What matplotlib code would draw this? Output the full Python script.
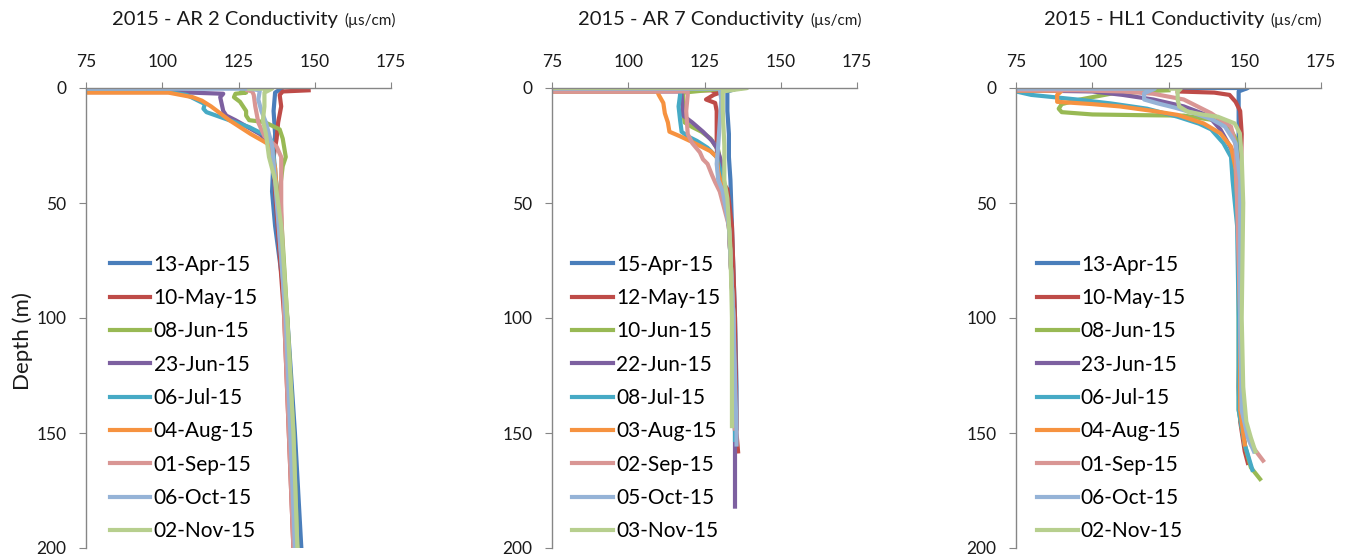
import matplotlib
matplotlib.use("Agg")
import matplotlib.pyplot as plt

plt.rcParams['font.family'] = ['Lato', 'DejaVu Sans']

# =========================
# Data (conductivity uS/cm vs depth m)
# =========================
colors = ["#4A7EBB", "#BE4B48", "#98B954", "#7D60A0", "#46AAC5",
          "#F69240", "#D99694", "#95B3D7", "#B7CF8E"]

# ---- AR 2 ----
ar2_dates = ["13-Apr-15", "10-May-15", "08-Jun-15", "23-Jun-15", "06-Jul-15",
             "04-Aug-15", "01-Sep-15", "06-Oct-15", "02-Nov-15"]
ar2_cond = [
    [139, 137, 136.5, 137, 136.5, 136, 137, 141, 143.5, 145.6],
    [148, 139.5, 138.5, 139, 138, 137.5, 136.5, 137, 140, 141.5, 143],
    [126, 127.5, 124, 123.5, 125.5, 126.5, 127.5, 127.5, 128.5, 133.5, 138.5, 139.5, 140, 140.5, 139.5, 138.5, 141, 143, 144.3],
    [75, 105, 120, 119, 119.5, 120, 121, 124, 128, 132, 134.5, 136, 137, 140.5, 142, 144],
    [75, 100, 108, 111, 114, 113.5, 114.5, 122, 128.5, 133, 136, 137, 140.5, 142, 144],
    [75, 102, 106, 110, 113, 116, 119, 122, 125.5, 129, 133, 135.5, 137, 140.5, 142, 144],
    [128, 129.5, 130, 130.5, 131.5, 133.5, 137.5, 139, 139, 139, 140, 141.5, 143],
    [75, 128.5, 132, 131.5, 132.5, 134, 136, 137, 140.5, 142, 143.5],
    [128.5, 136, 133.5, 133.5, 133, 134, 135, 137, 139, 141, 143, 144.3],
]
ar2_depth = [
    [0.3, 2, 10, 20, 30, 45, 60, 100, 150, 200],
    [1, 1.5, 3, 8, 15, 22, 30, 45, 100, 150, 200],
    [1.5, 2, 2.5, 4, 6, 8, 10, 12, 14, 14.8, 18, 22, 26, 30, 34, 45, 100, 150, 200],
    [1.8, 1.8, 2.5, 4, 7, 10, 12, 14, 17, 20, 23, 27, 40, 100, 150, 200],
    [1.2, 1.2, 3, 5, 7, 9, 10.5, 14, 17, 20, 23, 35, 100, 150, 200],
    [2, 2, 3, 4, 5.5, 8, 11, 14, 17, 20, 23, 25, 35, 100, 150, 200],
    [1, 1.5, 3, 8, 15, 21, 25.5, 30, 38, 50, 100, 150, 200],
    [0.3, 0.3, 1, 5, 10, 15, 25, 40, 100, 150, 200],
    [0.3, 0.3, 2, 8, 14, 20, 30, 40, 60, 100, 150, 200],
]

# ---- AR 7 ----
ar7_dates = ["15-Apr-15", "12-May-15", "10-Jun-15", "22-Jun-15", "08-Jul-15",
             "03-Aug-15", "02-Sep-15", "05-Oct-15", "03-Nov-15"]
ar7_cond = [
    [130, 135, 132.5, 132.5, 133, 133, 133.5, 134, 135, 135.5, 135.5],
    [75, 127, 130, 128, 125.5, 128.5, 129, 129, 129.5, 132.5, 134, 135, 135.5, 136],
    [75, 131, 118, 118, 118.5, 121, 124, 127, 129.5, 131, 133, 134.5, 135],
    [75, 117.5, 117.5, 118, 121, 124.5, 127.5, 129, 130.5, 133, 134.5, 135, 135],
    [75, 117, 117, 116.5, 117, 117.5, 119.5, 122.5, 126, 129, 131, 133, 134.5, 135, 135],
    [75, 109.5, 110, 111.5, 112, 113, 113.5, 117, 121, 124, 127, 129, 129.5, 131, 133, 134.5, 135],
    [75, 119.5, 119.5, 119, 119.5, 121, 123.5, 124.5, 126, 127.5, 128.5, 130, 133, 134.5, 135],
    [75, 130, 130.5, 130, 129.5, 129, 129.5, 131, 133, 134.5, 135.5, 135.5],
    [75, 139, 131, 131, 131.5, 131.5, 132.5, 133.5, 134, 134],
]
ar7_depth = [
    [0.5, 0.5, 1.5, 10, 20, 30, 40, 60, 100, 130, 148],
    [1, 1, 2, 3, 5, 6.5, 10, 25, 38, 44, 60, 100, 150, 158],
    [0, 0.3, 2, 10, 15, 17, 19, 22, 27, 38, 60, 100, 148],
    [1.5, 1.5, 3, 12, 15, 19, 23, 26, 32, 60, 100, 150, 182],
    [1, 1, 3, 8, 14, 19, 21, 23, 26, 30, 40, 60, 100, 150, 153],
    [1.5, 1.5, 3, 6.5, 11, 15, 19, 21, 23.5, 25.5, 27.5, 30, 36, 45, 60, 100, 148],
    [1.5, 1.5, 3, 10, 20, 24, 28, 31, 33, 38, 41, 45, 60, 100, 148],
    [0.3, 0.3, 5, 15, 25, 33, 40, 45, 60, 100, 150, 155],
    [0, 0, 1.5, 10, 25, 40, 48, 70, 100, 147],
]

# ---- HL1 ----
hl1_dates = ar2_dates
hl1_cond = [
    [130, 151, 148, 148, 148, 148.5, 148.5, 148.5, 149],
    [128, 140, 145, 147, 148.5, 149, 148.5, 148.5, 148, 148.5, 150, 151],
    [125, 116, 111, 108, 104, 96, 90, 89, 90, 100, 115, 130, 140, 145, 147, 148, 148, 148, 150, 152, 155],
    [75, 100, 110, 120, 130, 138, 142, 145, 147, 148, 148.5, 148.5, 150],
    [75, 80, 95, 106, 118, 128, 135, 139, 143, 145.5, 146, 147.5, 148, 148, 150, 152.5],
    [75, 83, 90, 88.5, 88.5, 100, 109, 120, 128, 136.5, 142, 145.5, 147, 148, 148.5, 148.5, 150],
    [75, 95, 110, 120, 130, 139, 145.5, 147, 148.5, 149, 152, 156],
    [75, 120.5, 117, 117, 121.5, 127, 133.5, 139, 143.5, 147, 148.5, 148.5, 149, 151, 153],
    [125.8, 129, 128, 128, 128.5, 131.3, 136, 141.2, 146.7, 148.4, 149, 149.5, 149, 149.5, 150.5, 152, 153.5],
]
hl1_depth = [
    [0, 0, 1.5, 10, 30, 50, 100, 135, 142],
    [1.5, 2, 3, 6, 10, 20, 50, 100, 130, 145, 158, 163],
    [1, 1.5, 2.5, 2, 3, 5, 7, 9, 10.5, 11.5, 11.8, 12, 14, 17, 22, 40, 100, 140, 155, 165, 170],
    [1, 1.5, 3, 5, 8, 12, 18, 25, 30, 40, 100, 140, 155],
    [1.5, 3, 5, 6.7, 9, 12.5, 15.5, 18, 24, 30, 40, 60, 100, 140, 155, 166],
    [1.2, 1.2, 1.2, 3, 6, 7, 8, 10, 11.7, 15.4, 19.7, 25.5, 35, 60, 100, 140, 155],
    [1, 1, 1.5, 2.5, 5, 11, 16.8, 25, 100, 140, 155, 162],
    [0.3, 0.3, 2.3, 5, 6.7, 8.5, 11, 13.5, 16.8, 24, 40, 100, 140, 152, 158],
    [0.3, 0.3, 1.6, 5, 8, 10.3, 11.5, 12.5, 15.4, 19.7, 30, 50, 100, 130, 145, 152, 158],
]

panels = [
    ("2015 - AR 2 Conductivity", ar2_dates, ar2_cond, ar2_depth, 86, 0.078),
    ("2015 - AR 7 Conductivity", ar7_dates, ar7_cond, ar7_depth, 552, 0.066),
    ("2015 - HL1 Conductivity", hl1_dates, hl1_cond, hl1_depth, 1016, 0.069),
]

W, H = 1347, 559
fig = plt.figure(figsize=(W / 100, H / 100), dpi=100)

axis_col = "#868686"
text_col = "#1a1a1a"

for i, (title, dates, conds, depths, left_px, leg_x) in enumerate(panels):
    ax = fig.add_axes([left_px / W, 1 - 548 / H, 305 / W, 460 / H])
    for k, (lab, c, d) in enumerate(zip(dates, conds, depths)):
        ax.plot(c, d, color=colors[k], lw=3, label=lab, solid_joinstyle="round")

    ax.set_xlim(75, 175)
    ax.set_ylim(200, 0)
    ax.set_xticks([75, 100, 125, 150, 175])
    ax.set_yticks([0, 50, 100, 150, 200])
    ax.xaxis.tick_top()
    for s in ["bottom", "right"]:
        ax.spines[s].set_visible(False)
    for s in ["top", "left"]:
        ax.spines[s].set_color(axis_col)
        ax.spines[s].set_linewidth(1)
    ax.tick_params(axis="x", direction="out", length=4, pad=9, colors=axis_col,
                   labelcolor=text_col, labelsize=12.5)
    ax.tick_params(axis="y", direction="out", length=5, pad=9, colors=axis_col,
                   labelcolor=text_col, labelsize=12.5)

    leg = ax.legend(loc="center left", bbox_to_anchor=(leg_x, 0.326), frameon=False,
                    fontsize=15, handlelength=1.95, handletextpad=0.15,
                    labelspacing=0.64, borderpad=0, borderaxespad=0)
    for h in leg.get_lines():
        h.set_linewidth(3)

    # title in two sizes, like the original
    right_px = left_px + 305
    end_px = right_px - 53 if i < 2 else right_px - 57
    fig.text(end_px / W, 1 - 20 / H, title, ha="right", va="center",
             fontsize=14.5, color=text_col)
    fig.text((end_px + 6) / W, 1 - 20 / H, "(\u00b5s/cm)", ha="left", va="center",
             fontsize=11, color=text_col)

    if i == 0:
        fig.text(23 / W, 1 - 341 / H, "Depth (m)", rotation=90, ha="center",
                 va="center", fontsize=16, color=text_col)

fig.savefig("out.png", dpi=100)
